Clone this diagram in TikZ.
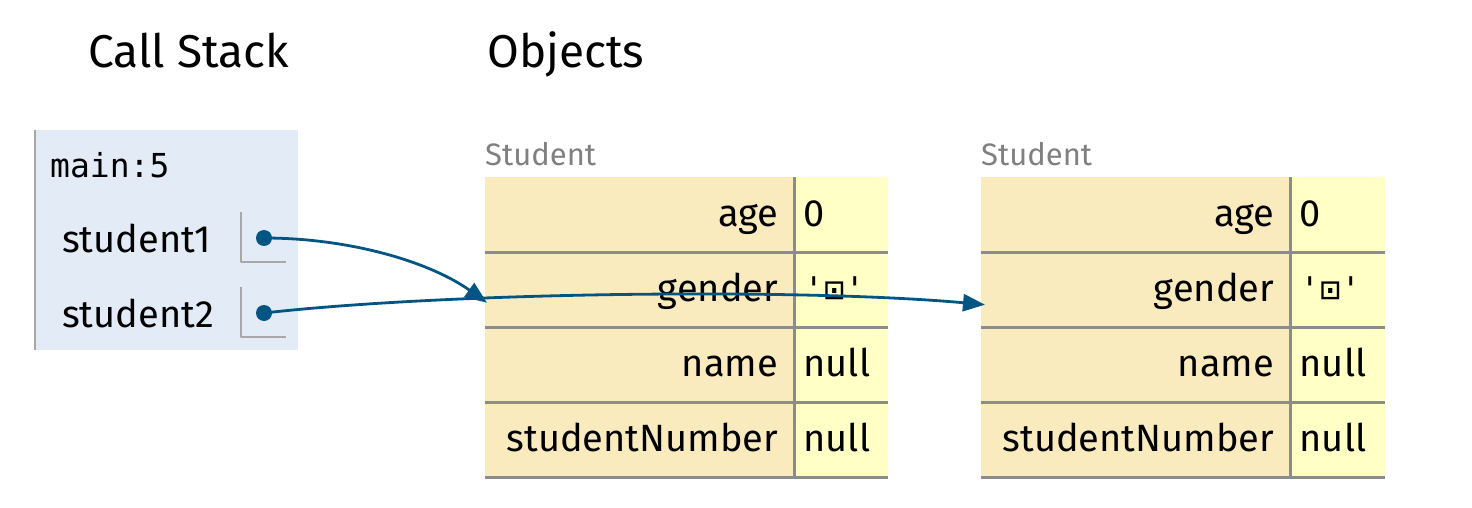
\documentclass[tikz,border=0pt]{standalone}
\usepackage{fontspec}
\setmainfont{Fira Sans}
\setmonofont{DejaVu Sans Mono}
\usetikzlibrary{arrows.meta,positioning}
\definecolor{frameblue}{HTML}{E2EBF6}
\definecolor{keytan}{HTML}{FAEBBF}
\definecolor{valyellow}{HTML}{FFFFC6}
\definecolor{rulegray}{HTML}{8C8C8C}
\definecolor{slotgray}{HTML}{A8A8A8}
\definecolor{ptrblue}{HTML}{005583}
\tikzset{
	title/.style={anchor=base west, inner sep=0pt, font=\fontsize{46}{52}\selectfont},
	typelabel/.style={anchor=base west, inner sep=0pt, text=gray, font=\fontsize{31}{36}\selectfont},
	varname/.style={anchor=base west, inner sep=0pt, font=\fontsize{38}{44}\selectfont},
	cell/.style={inner sep=0pt, text height=49pt, text depth=26pt, font=\fontsize{38}{44}\selectfont},
	keycell/.style={cell, anchor=north west, fill=keytan, text width=309pt, align=right},
	valcell/.style={cell, fill=valyellow, align=left},
	ptrdot/.style={circle, fill=ptrblue, inner sep=0pt, minimum size=16pt},
	ptr/.style={->, draw=ptrblue, line width=2.8pt, line cap=round}
}
% one heap object of type Student
\newcommand\studentobj[3]{% #1 name, #2 left x, #3 value width
	\node[typelabel] (#1type) at (#2,165) {Student};
	\foreach \fld/\val [count=\r from 0] in {age/0, gender/{\ttfamily\fontsize{34}{40}\selectfont '⊡'}, name/null, studentNumber/null} {
		\node[keycell] (#1k\r) at (#2,177+75*\r) {\mbox{\fld\kern16pt}};
		\node[valcell, text width=#3pt, right=0pt of #1k\r] (#1v\r) {\hspace*{9pt}\val};
	}
	\foreach \r in {0,...,3}
		\draw[rulegray, line width=2.4pt] (#1k\r.south west) -- (#1v\r.south east);
	\draw[rulegray, line width=2.4pt] (#1k0.north east) -- (#1k3.south east);
}
\begin{document}
\begin{tikzpicture}[x=1pt, y=-1pt, line join=round, >={Triangle[length=22pt,width=17pt]}]
	\useasboundingbox (0,0) rectangle (1472,508);
	\node[title] (stacktitle) at (88,68) {Call Stack};
	\node[title] (heaptitle) at (487,68) {Objects};
	% stack frame
	\fill[frameblue] (35,130) rectangle (298,350);
	\draw[slotgray, line width=2pt] (35,130) -- (35,350);
	\node[anchor=base west, inner sep=0pt, font=\ttfamily\fontsize{33}{40}\selectfont] (frame) at (50,177) {main:5};
	\foreach \v [count=\i from 0] in {student1,student2} {
		\node[varname] (\v) at (62,252+75*\i) {\v};
		\draw[slotgray, line width=2pt] (241,212+75*\i) -- (241,262+75*\i) -- (286,262+75*\i);
		\node[ptrdot] (\v dot) at (264,238+75*\i) {};
	}
	% heap
	\studentobj{objA}{485}{93}
	\studentobj{objB}{981}{94}
	\coordinate (objAin) at ([xshift=2pt, yshift=-13pt]objAk1.west);
	\coordinate (objBin) at ([xshift=4pt, yshift=-15pt]objBk1.west);
	\draw[ptr] (student1dot.center) .. controls (350,238) and (430,262) .. (objAin);
	\draw[ptr] (student2dot.center) .. controls (450,292) and (800,288) .. (objBin);
\end{tikzpicture}
\end{document}
